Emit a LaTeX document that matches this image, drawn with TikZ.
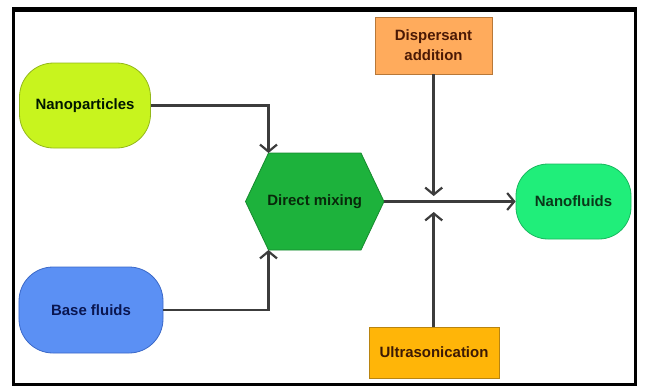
\documentclass[tikz,border=0pt]{standalone}
\usepackage{fontspec}
\setmainfont{Liberation Sans}
\usetikzlibrary{arrows.meta}
\definecolor{linegray}{HTML}{3C3C3C}
\definecolor{npfill}{HTML}{C8F41E}
\definecolor{npdraw}{HTML}{93B81A}
\definecolor{bffill}{HTML}{5B90F4}
\definecolor{bfdraw}{HTML}{3A68C8}
\definecolor{mixfill}{HTML}{1DB23C}
\definecolor{mixdraw}{HTML}{168A2E}
\definecolor{nffill}{HTML}{20EE7A}
\definecolor{nfdraw}{HTML}{18B85E}
\definecolor{dpfill}{HTML}{FFAB5C}
\definecolor{dpdraw}{HTML}{B87838}
\definecolor{usfill}{HTML}{FFB508}
\definecolor{usdraw}{HTML}{B88410}
\tikzset{
  lbl/.style={font=\fontsize{15}{17}\selectfont\bfseries, align=center},
  roundbox/.style={lbl, draw, line width=0.8bp, rounded corners=34bp, inner sep=0pt},
  rectbox/.style={lbl, draw, line width=0.8bp, inner sep=0pt},
  flow/.style={draw=linegray, line width=2.6bp,
    -{Straight Barb[length=7bp,width=17bp,line width=2.2bp]}},
  plainflow/.style={draw=linegray, line width=2.6bp}
}
\begin{document}
\begin{tikzpicture}[x=1bp,y=-1bp]
\useasboundingbox (0,0) rectangle (645,386);
% frame
\draw[line width=3bp, black] (13.5,9.5) rectangle (635.5,384);
\draw[line width=5bp, black] (12,9.5) -- (637,9.5);

% nodes
\node[roundbox, fill=npfill, draw=npdraw, text=black!85!green!60!black,
      minimum width=131bp, minimum height=85bp] (np) at (85,105.5) {Nanoparticles};
\node[roundbox, fill=bffill, draw=bfdraw, text={rgb,255:red,10;green,22;blue,80},
      minimum width=144bp, minimum height=86bp] (bf) at (91,310) {Base fluids};
\node[roundbox, fill=nffill, draw=nfdraw, text={rgb,255:red,10;green,55;blue,25},
      rounded corners=32bp, minimum width=115bp, minimum height=75bp] (nf) at (573.5,201.5) {Nanofluids};
\node[rectbox, fill=dpfill, draw=dpdraw, text={rgb,255:red,75;green,25;blue,5},
      minimum width=117bp, minimum height=57bp] (dp) at (433.5,45.5) {Dispersant\\[3bp]addition};
\node[rectbox, fill=usfill, draw=usdraw, text={rgb,255:red,60;green,25;blue,5},
      minimum width=130bp, minimum height=51bp] (us) at (434,352.5) {Ultrasonication};

% hexagon
\coordinate (hexL) at (245.5,201.5);
\coordinate (hexTL) at (268.5,153);
\coordinate (hexTR) at (361,153);
\coordinate (hexR) at (384,201.5);
\coordinate (hexBR) at (361,250);
\coordinate (hexBL) at (268.5,250);
\fill[mixfill, draw=mixdraw, line width=0.8bp] (hexL) -- (hexTL) -- (hexTR) -- (hexR) -- (hexBR) -- (hexBL) -- cycle;
\node[lbl, text={rgb,255:red,8;green,40;blue,10}] (mix) at (314.75,201.5) {Direct mixing};

% junction points
\coordinate (jTop) at (433.7,196);
\coordinate (jBot) at (433.7,212);

% connectors
\draw[flow] (np.east) -| (hexTL);
\draw[flow] (bf.east) -| (hexBL);
\draw[flow] (hexR) -- (nf.west);
\draw[flow] (dp.south -| jTop) -- (jTop);
\draw[flow] (us.north -| jBot) -- (jBot);
\end{tikzpicture}
\end{document}
